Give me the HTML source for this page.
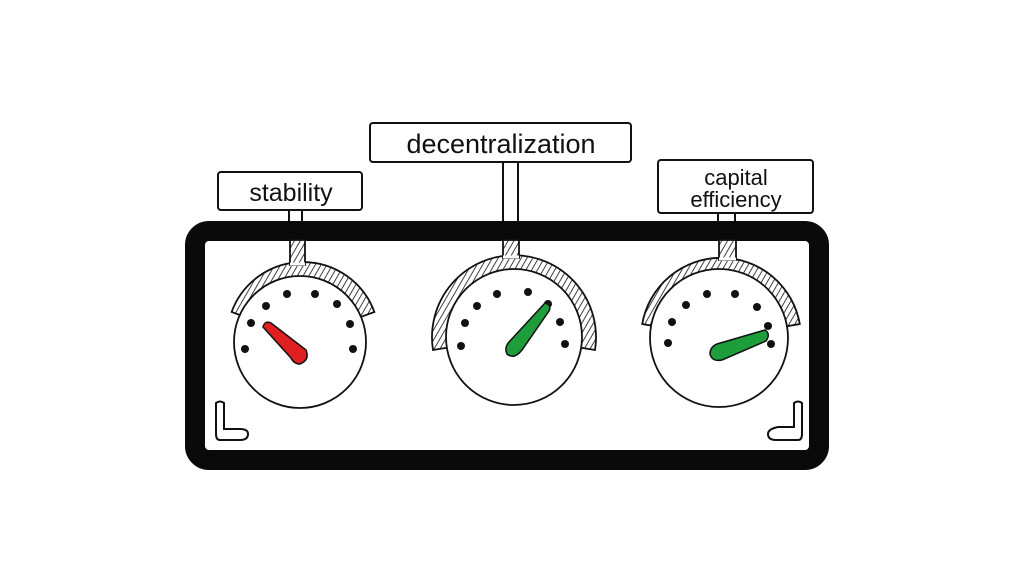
<!DOCTYPE html>
<html><head><style>html,body{margin:0;padding:0;background:#fff}svg{display:block}</style></head>
<body>
<svg width="1019" height="573" viewBox="0 0 1019 573" xmlns="http://www.w3.org/2000/svg">
<defs>
<pattern id="h" width="5" height="5" patternUnits="userSpaceOnUse" patternTransform="rotate(30)">
<rect width="5" height="5" fill="#fff"/><line x1="0" y1="0" x2="0" y2="5" stroke="#111" stroke-width="1.6"/></pattern>
</defs>
<rect width="1019" height="573" fill="#fff"/>
<g fill="none" stroke="#111" stroke-width="2">
<path d="M289,210 V232 M302,210 V232"/>
<path d="M503,162 V232 M518,162 V232"/>
<path d="M718,213 V232 M735,213 V232"/>
</g>
<!-- frame -->
<rect x="195" y="231" width="624" height="229" rx="14" fill="none" stroke="#0a0a0a" stroke-width="20"/>
<g fill="none" stroke="#111" stroke-width="2">
<rect x="218" y="172" width="144" height="38" rx="3" fill="#fff"/>
<rect x="370" y="123" width="261" height="39" rx="3" fill="#fff"/>
<rect x="658" y="160" width="155" height="53" rx="3" fill="#fff"/>
</g>
<g font-family="Liberation Sans, sans-serif" fill="#111" text-anchor="middle">
<text x="291" y="201" font-size="25">stability</text>
<text x="501" y="153" font-size="27">decentralization</text>
<text x="736" y="185" font-size="22">capital</text>
<text x="736" y="207" font-size="22">efficiency</text>
</g>
<g stroke="#111" stroke-width="1.8">
<path d="M231.6,312 A76,76 0 0 1 374.4,312 L359.4,317.5 A60,60 0 0 0 246.6,317.5 Z" fill="url(#h)"/>
<rect x="290" y="240" width="15" height="25" fill="url(#h)"/>
<path d="M290,264 L305,264" stroke="#fff" stroke-width="3"/>
<circle cx="300" cy="342" r="66" fill="#fff"/>
<path d="M433,350 A82,82 0 1 1 595,350 L577.2,347.1 A64,64 0 1 0 450.8,347.1 Z" fill="url(#h)"/>
<rect x="503" y="240" width="16" height="18" fill="url(#h)"/>
<path d="M503,257 L519,257" stroke="#fff" stroke-width="3"/>
<circle cx="514" cy="337" r="68" fill="#fff"/>
<path d="M642.2,324 A80,80 0 0 1 799.8,324 L784,326.8 A64,64 0 0 0 658,326.8 Z" fill="url(#h)"/>
<rect x="719" y="240" width="17" height="20" fill="url(#h)"/>
<path d="M719,259 L736,259" stroke="#fff" stroke-width="3"/>
<circle cx="719" cy="338" r="69" fill="#fff"/>
</g>
<g fill="#111">
<circle cx="266" cy="306" r="4"/><circle cx="287" cy="294" r="4"/><circle cx="315" cy="294" r="4"/><circle cx="337" cy="304" r="4"/><circle cx="350" cy="324" r="4"/><circle cx="353" cy="349" r="4"/><circle cx="251" cy="323" r="4"/><circle cx="245" cy="349" r="4"/>
<circle cx="477" cy="306" r="4"/><circle cx="497" cy="294" r="4"/><circle cx="528" cy="292" r="4"/><circle cx="548" cy="304" r="4"/><circle cx="560" cy="322" r="4"/><circle cx="565" cy="344" r="4"/><circle cx="465" cy="323" r="4"/><circle cx="461" cy="346" r="4"/>
<circle cx="672" cy="322" r="4"/><circle cx="668" cy="343" r="4"/><circle cx="686" cy="305" r="4"/><circle cx="707" cy="294" r="4"/><circle cx="735" cy="294" r="4"/><circle cx="757" cy="307" r="4"/><circle cx="768" cy="326" r="4"/><circle cx="771" cy="344" r="4"/>
</g>
<g stroke="#111" stroke-width="1.5">
<path d="M263,327 Q265,320 271,323 L306,350 Q310,360 300,364 Q294,364 291,358 Z" fill="#e02020"/>
<path d="M545,303 Q552,305 549,311 L522,350 Q514,360 507,354 Q504,348 509,342 Z" fill="#1e9e3a"/>
<path d="M765,330 Q771,334 766,341 L722,360 Q712,362 710,354 Q710,347 717,344 Z" fill="#1e9e3a"/>
</g>
<g fill="none" stroke="#111" stroke-width="2">
<path d="M216,403 q4,-3 8,0 v26 h16 q8,0 8,5 q0,6 -8,6 h-20 q-4,0 -4,-6 Z"/>
<path d="M802,403 q-4,-3 -8,0 v24 h-16 q-10,2 -10,7 q0,6 8,6 h22 q4,0 4,-6 Z"/>
</g>
</svg>
</body></html>
